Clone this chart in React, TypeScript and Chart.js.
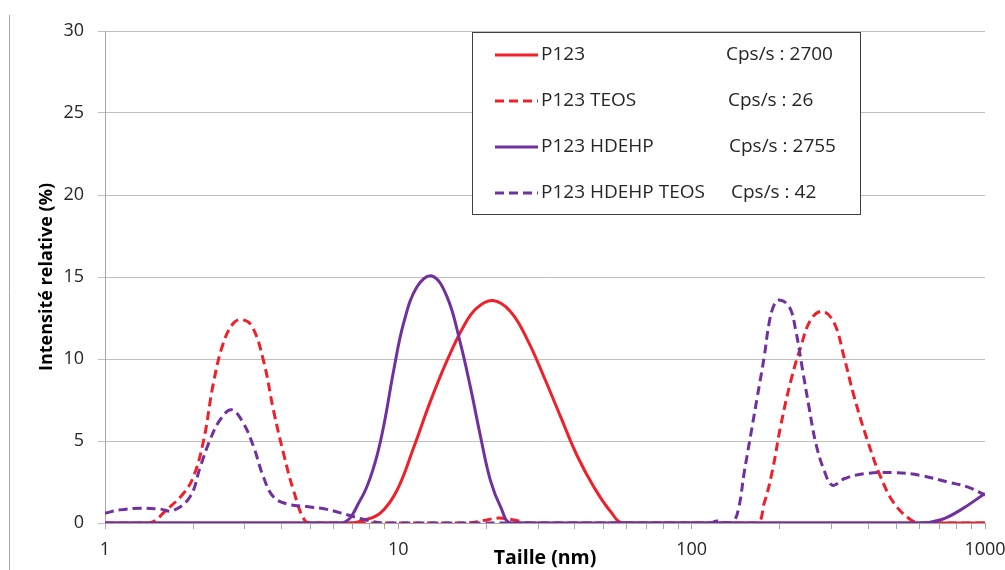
import React, { useEffect, useRef } from 'react';
import { Chart, registerables } from 'chart.js';

Chart.register(...registerables);

// ---- data ----
const seriesLabels = ['P123', 'P123 TEOS', 'P123 HDEHP', 'P123 HDEHP TEOS'];
const cpsValues = ['2700', '26', '2755', '42'];

const xTickValues = [1, 10, 100, 1000];
const xTickLabels = ['1', '10', '100', '1000'];
const yTickValues = [0, 5, 10, 15, 20, 25, 30];

const p123Size = [1, 6.8, 7.6, 8.68, 9.9, 11.28, 12.85, 14.65, 16.7, 18.5, 21.0, 24.1, 27.5, 31.3, 35.7, 40.7, 46.4, 52.9, 58.7, 1000];
const p123Value = [0, 0, 0.16, 0.6, 2.0, 4.6, 7.4, 9.9, 12.0, 13.1, 13.56, 12.9, 11.2, 8.95, 6.5, 4.1, 2.2, 0.7, 0, 0];

const p123TeosSize = [1, 1.42, 1.62, 1.85, 2.0, 2.17, 2.34, 2.53, 2.74, 2.93, 3.17, 3.47, 3.75, 4.06, 4.39, 4.82, 5.2, 17.0, 19.5, 21.9, 24.5, 28, 165, 176.6, 188.5, 201, 218, 235.6, 254.8, 279, 306, 331, 358, 397, 441, 490, 558, 603, 1000];
const p123TeosValue = [0, 0, 0.8, 1.8, 2.8, 5.06, 8.5, 10.96, 12.18, 12.4, 12.0, 9.9, 6.9, 4.25, 2.0, 0.1, 0, 0, 0.15, 0.3, 0.2, 0, 0, 1.2, 3.2, 5.9, 8.7, 10.75, 12.4, 12.9, 12.2, 10.1, 7.7, 5.06, 2.8, 1.2, 0.2, 0, 0];

const p123HdehpSize = [1, 6.34, 7.42, 8.24, 8.91, 9.64, 10.43, 11.58, 13.03, 14.65, 16.28, 17.6, 19.05, 20.6, 22.3, 24.4, 600, 708, 826, 1000];
const p123HdehpValue = [0, 0, 1.4, 3.4, 5.9, 9.3, 12.2, 14.4, 15.06, 13.8, 10.96, 8.3, 5.3, 2.6, 1.0, 0, 0, 0.2, 0.8, 1.8];

const p123HdehpTeosSize = [1, 1.125, 1.316, 1.54, 1.7, 1.95, 2.11, 2.28, 2.47, 2.70, 2.96, 3.21, 3.47, 3.75, 4.17, 4.88, 5.71, 6.68, 7.8, 8.9, 115, 122, 131, 139, 145, 150.8, 158.7, 167.4, 176.6, 183.7, 191, 198.6, 215, 226, 239, 251, 265, 283, 302, 331, 387, 490, 604, 745, 872, 1000];
const p123HdehpTeosValue = [0.6, 0.8, 0.9, 0.85, 0.75, 1.6, 3.4, 5.06, 6.3, 6.9, 6.1, 4.65, 2.8, 1.6, 1.16, 1.0, 0.83, 0.5, 0.18, 0, 0, 0.12, 0.02, 0.1, 1.0, 3.0, 5.3, 7.7, 10.1, 12.2, 13.3, 13.6, 13.2, 11.8, 9.3, 7.1, 4.86, 3.2, 2.3, 2.7, 3.0, 3.07, 2.9, 2.5, 2.2, 1.7];

// ---- styles ----
const RED = '#f0202a';
const PURPLE = '#7030a0';
const FONT = "'Open Sans', 'Liberation Sans', sans-serif";
const TEXT = '#262626';

const toPoints = (xs: number[], ys: number[]) => xs.map((x, i) => ({ x, y: ys[i] }));

const legendPlugin = {
  id: 'boxLegend',
  beforeDraw(chart: any) {
    const ctx = chart.ctx;
    ctx.save();
    ctx.strokeStyle = '#a6a6a6';
    ctx.lineWidth = 1;
    ctx.beginPath();
    ctx.moveTo(9.5, 15);
    ctx.lineTo(9.5, 570);
    ctx.stroke();
    ctx.restore();
  },
  afterDraw(chart: any) {
    const ctx = chart.ctx;
    const box = { l: 472, t: 32, r: 860, b: 214 };
    const rowsY = [55, 101, 147, 193];
    const cpsX = [726, 728, 729, 731];
    ctx.save();
    ctx.fillStyle = '#ffffff';
    ctx.fillRect(box.l, box.t, box.r - box.l, box.b - box.t);
    ctx.strokeStyle = '#404040';
    ctx.lineWidth = 1;
    ctx.strokeRect(box.l + 0.5, box.t + 0.5, box.r - box.l, box.b - box.t);
    chart.data.datasets.forEach((ds: any, i: number) => {
      const y = rowsY[i];
      ctx.strokeStyle = ds.borderColor;
      ctx.lineWidth = 3;
      ctx.setLineDash(ds.borderDash || []);
      ctx.beginPath();
      ctx.moveTo(495, y);
      ctx.lineTo(538, y);
      ctx.stroke();
      ctx.setLineDash([]);
      ctx.fillStyle = TEXT;
      ctx.font = `19px ${FONT}`;
      ctx.textBaseline = 'middle';
      ctx.textAlign = 'left';
      ctx.fillText(seriesLabels[i], 541, y);
      ctx.fillText(`Cps/s : ${cpsValues[i]}`, cpsX[i], y);
    });
    ctx.restore();
  },
};

export default function App() {
  const ref = useRef<HTMLCanvasElement>(null);
  useEffect(() => {
    if (!ref.current) return;
    const mk = (i: number, xs: number[], ys: number[], color: string, dashed: boolean, order: number) => ({
      label: seriesLabels[i],
      data: toPoints(xs, ys),
      borderColor: color,
      backgroundColor: color,
      borderWidth: 3,
      borderDash: dashed ? [9, 5] : [],
      pointRadius: 0,
      fill: false,
      tension: 0.4,
      order,
    });
    const chart = new Chart(ref.current, {
      type: 'line',
      data: {
        datasets: [
          mk(0, p123Size, p123Value, RED, false, 4),
          mk(1, p123TeosSize, p123TeosValue, RED, true, 3),
          mk(2, p123HdehpSize, p123HdehpValue, PURPLE, false, 2),
          mk(3, p123HdehpTeosSize, p123HdehpTeosValue, PURPLE, true, 1),
        ],
      },
      options: {
        animation: false,
        responsive: false,
        layout: { padding: { top: 31, right: 20, left: 0, bottom: 0 } },
        plugins: { legend: { display: false }, tooltip: { enabled: false } },
        scales: {
          x: {
            type: 'logarithmic',
            min: 1,
            max: 1000,
            afterBuildTicks: (scale: any) => {
              const t: any[] = [];
              for (let d = 0; d < xTickValues.length - 1; d++) {
                for (let k = 1; k < 10; k++) t.push({ value: xTickValues[d] * k });
              }
              t.push({ value: xTickValues[xTickValues.length - 1] });
              scale.ticks = t;
            },
            afterFit: (scale: any) => {
              scale.height = 47;
              scale.paddingRight = 0;
              scale.paddingLeft = 0;
            },
            ticks: {
              autoSkip: false,
              maxRotation: 0,
              padding: 10,
              color: TEXT,
              font: { family: FONT, size: 18 },
              callback: (v: any) => {
                const idx = xTickValues.indexOf(Number(v));
                return idx >= 0 ? xTickLabels[idx] : '';
              },
            },
            grid: { drawOnChartArea: false, drawTicks: true, tickLength: 6, color: '#a6a6a6' },
            border: { display: true, color: '#a6a6a6' },
            title: {
              display: true,
              text: 'Taille (nm)',
              color: '#000',
              font: { family: FONT, size: 19.5, weight: 'bold' },
              padding: { top: 0, bottom: 0 },
            },
          },
          y: {
            min: 0,
            max: 30,
            afterBuildTicks: (scale: any) => { scale.ticks = yTickValues.map((v) => ({ value: v })); },
            afterFit: (scale: any) => { scale.width = 105; },
            ticks: {
              padding: 14,
              color: TEXT,
              font: { family: FONT, size: 18 },
            },
            grid: { color: '#bfbfbf', tickLength: 7, drawTicks: true },
            border: { display: true, color: '#a6a6a6' },
            title: {
              display: true,
              text: 'Intensité relative (%)',
              color: '#000',
              font: { family: FONT, size: 18, weight: 'bold' },
              padding: { top: 36, bottom: 0 },
            },
          },
        },
      },
      plugins: [legendPlugin],
    } as any);
    return () => chart.destroy();
  }, []);
  return (
    <div style={{ position: 'fixed', left: 0, top: 0, width: 1005, height: 570, background: '#fff', overflow: 'hidden' }}>
      <canvas ref={ref} width={1005} height={570} style={{ width: 1005, height: 570, display: 'block' }} />
    </div>
  );
}
